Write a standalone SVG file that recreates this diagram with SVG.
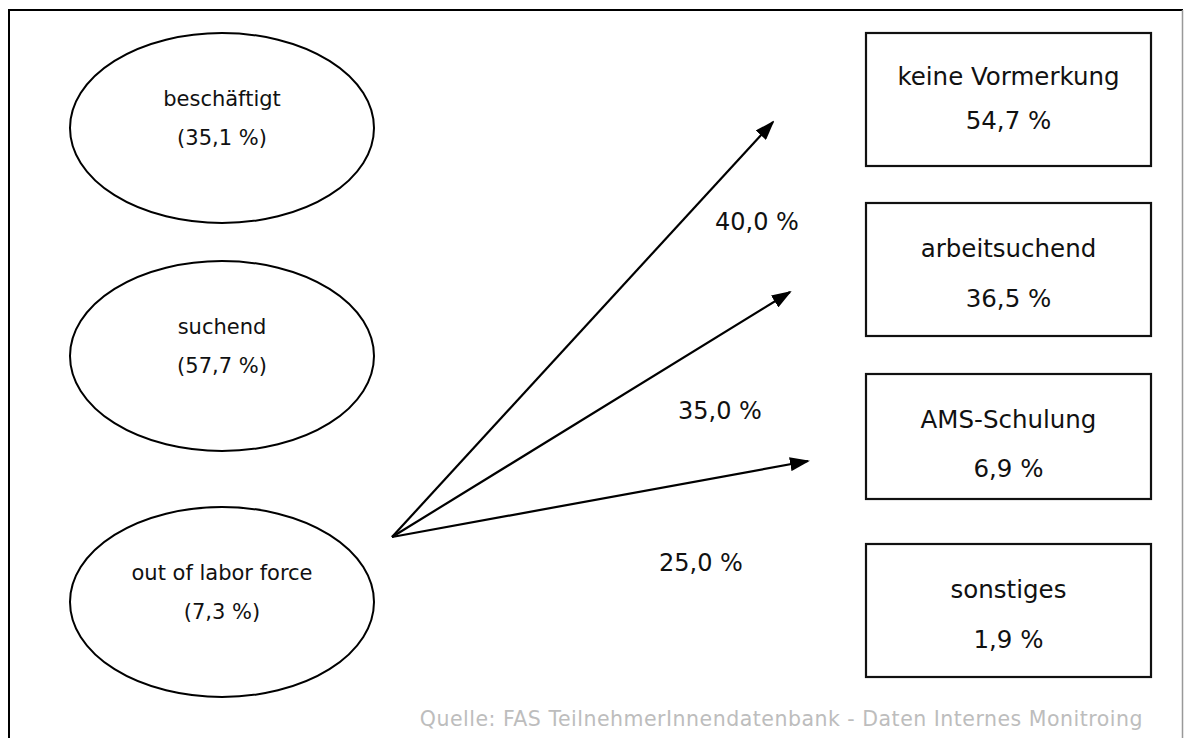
<svg xmlns="http://www.w3.org/2000/svg" width="1184" height="738" viewBox="0 0 1184 738">
  <style>
    text { font-family: "DejaVu Sans", Verdana, sans-serif; fill: #111; text-anchor: middle; }
    .state { fill: #fff; stroke: #000; stroke-width: 2; }
    .outcome { fill: #fff; stroke: #111; stroke-width: 2.2; }
    .state-label { font-size: 21px; }
    .outcome-label { font-size: 24.5px; }
    .rate { font-size: 24px; text-anchor: start; }
    .flow { stroke: #000; stroke-width: 2.2; fill: none; marker-end: url(#arrow); }
    .source { font-size: 20.5px; letter-spacing: 0.5px; fill: #bdbdbd; text-anchor: end; }
  </style>
  <defs>
    <marker id="arrow" viewBox="0 0 20 14" refX="18" refY="7" markerWidth="20" markerHeight="14" markerUnits="userSpaceOnUse" orient="auto">
      <path d="M0,0 L20,7 L0,14 Z" fill="#000"/>
    </marker>
  </defs>

  <rect width="1184" height="738" fill="#fff"/>

  <!-- frame -->
  <g id="frame">
    <line x1="8" y1="10" x2="1183" y2="10" stroke="#000" stroke-width="2"/>
    <line x1="9" y1="9" x2="9" y2="738" stroke="#000" stroke-width="2"/>
    <line x1="1182.5" y1="10" x2="1182.5" y2="738" stroke="#999" stroke-width="1.5"/>
  </g>

  <!-- starting states -->
  <g id="state-employed">
    <ellipse class="state" cx="222" cy="128" rx="152" ry="95"/>
    <text class="state-label" x="222" y="106">beschäftigt</text>
    <text class="state-label" x="222" y="145">(35,1 %)</text>
  </g>
  <g id="state-searching">
    <ellipse class="state" cx="222" cy="356" rx="152" ry="95"/>
    <text class="state-label" x="222" y="334">suchend</text>
    <text class="state-label" x="222" y="373">(57,7 %)</text>
  </g>
  <g id="state-olf">
    <ellipse class="state" cx="222" cy="602" rx="152" ry="95"/>
    <text class="state-label" x="222" y="580">out of labor force</text>
    <text class="state-label" x="222" y="619">(7,3 %)</text>
  </g>

  <!-- outcomes -->
  <g id="outcome-none">
    <rect class="outcome" x="866" y="33" width="285" height="133"/>
    <text class="outcome-label" x="1008.5" y="85">keine Vormerkung</text>
    <text class="outcome-label" x="1008.5" y="129">54,7 %</text>
  </g>
  <g id="outcome-jobseeking">
    <rect class="outcome" x="866" y="203" width="285" height="133"/>
    <text class="outcome-label" x="1008.5" y="257">arbeitsuchend</text>
    <text class="outcome-label" x="1008.5" y="307">36,5 %</text>
  </g>
  <g id="outcome-training">
    <rect class="outcome" x="866" y="374" width="285" height="125"/>
    <text class="outcome-label" x="1008.5" y="428">AMS-Schulung</text>
    <text class="outcome-label" x="1008.5" y="477">6,9 %</text>
  </g>
  <g id="outcome-other">
    <rect class="outcome" x="866" y="544" width="285" height="133"/>
    <text class="outcome-label" x="1008.5" y="598">sonstiges</text>
    <text class="outcome-label" x="1008.5" y="648">1,9 %</text>
  </g>

  <!-- transitions -->
  <g id="connectors">
    <line class="flow" x1="392" y1="537" x2="773" y2="122"/>
    <line class="flow" x1="392" y1="537" x2="790" y2="292"/>
    <line class="flow" x1="392" y1="537" x2="808" y2="461"/>
    <text class="rate" x="715" y="230">40,0 %</text>
    <text class="rate" x="678" y="419">35,0 %</text>
    <text class="rate" x="659" y="571">25,0 %</text>
  </g>

  <text class="source" x="1143" y="726">Quelle: FAS TeilnehmerInnendatenbank - Daten Internes Monitroing</text>
</svg>
